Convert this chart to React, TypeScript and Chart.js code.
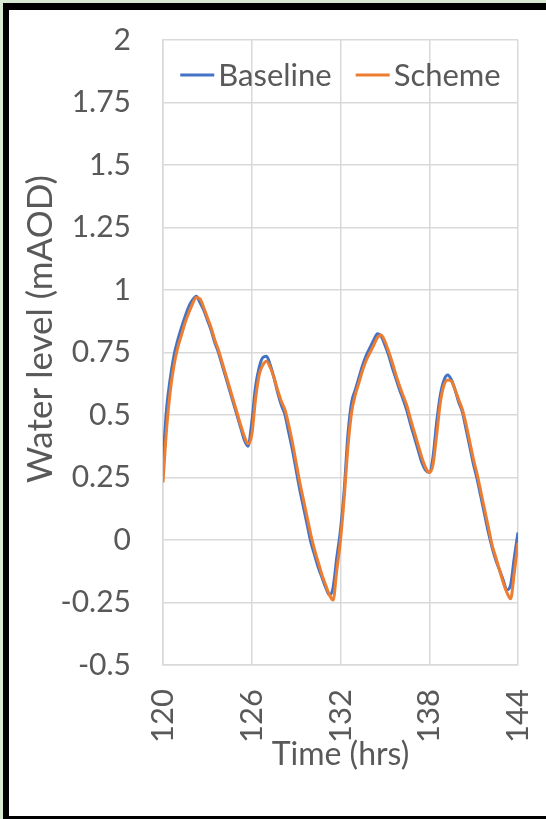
import React, { useEffect, useRef } from "react";
import { Chart, registerables } from "chart.js";

Chart.register(...registerables);

// Time (hrs), sampled every quarter hour
const timeHrs: number[] = [
  120, 120.25, 120.5, 120.75, 121, 121.25, 121.5, 121.75, 122, 122.25, 122.5, 122.75,
  123, 123.25, 123.5, 123.75, 124, 124.25, 124.5, 124.75, 125, 125.25, 125.5, 125.75,
  126, 126.25, 126.5, 126.75, 127, 127.25, 127.5, 127.75, 128, 128.25, 128.5, 128.75,
  129, 129.25, 129.5, 129.75, 130, 130.25, 130.5, 130.75, 131, 131.25, 131.5, 131.75,
  132, 132.25, 132.5, 132.75, 133, 133.25, 133.5, 133.75, 134, 134.25, 134.5, 134.75,
  135, 135.25, 135.5, 135.75, 136, 136.25, 136.5, 136.75, 137, 137.25, 137.5, 137.75,
  138, 138.25, 138.5, 138.75, 139, 139.25, 139.5, 139.75, 140, 140.25, 140.5, 140.75,
  141, 141.25, 141.5, 141.75, 142, 142.25, 142.5, 142.75, 143, 143.25, 143.5, 143.75,
  144,
];

// Water level (mAOD)
const baseline: number[] = [
  0.32, 0.53, 0.65, 0.74, 0.8, 0.85, 0.895, 0.935, 0.96, 0.975, 0.95, 0.92,
  0.88, 0.84, 0.79, 0.75, 0.7, 0.65, 0.6, 0.55, 0.5, 0.45, 0.4, 0.375,
  0.47, 0.61, 0.69, 0.73, 0.735, 0.7, 0.65, 0.59, 0.54, 0.5, 0.43, 0.36,
  0.28, 0.2, 0.13, 0.06, -0.01, -0.06, -0.11, -0.15, -0.19, -0.22, -0.19, -0.07,
  0.04, 0.2, 0.42, 0.55, 0.6, 0.65, 0.7, 0.74, 0.77, 0.8, 0.825, 0.815,
  0.78, 0.74, 0.69, 0.645, 0.6, 0.56, 0.515, 0.46, 0.41, 0.36, 0.31, 0.28,
  0.27, 0.33, 0.47, 0.58, 0.64, 0.66, 0.64, 0.6, 0.55, 0.51, 0.44, 0.37,
  0.3, 0.24, 0.17, 0.1, 0.03, -0.03, -0.08, -0.12, -0.16, -0.2, -0.18, -0.07,
  0.03,
];

const scheme: number[] = [
  0.23, 0.45, 0.6, 0.7, 0.77, 0.82, 0.87, 0.91, 0.945, 0.97, 0.965, 0.93,
  0.89, 0.85, 0.8, 0.76, 0.71, 0.66, 0.61, 0.56, 0.51, 0.46, 0.415, 0.385,
  0.42, 0.56, 0.66, 0.7, 0.715, 0.69, 0.65, 0.6, 0.555, 0.52, 0.46, 0.39,
  0.31, 0.23, 0.16, 0.09, 0.02, -0.04, -0.09, -0.14, -0.18, -0.22, -0.24, -0.12,
  0.0, 0.17, 0.37, 0.51, 0.58, 0.63, 0.68, 0.72, 0.75, 0.78, 0.81, 0.82,
  0.795, 0.755, 0.71, 0.66, 0.615, 0.575, 0.535, 0.48, 0.43, 0.38, 0.33, 0.29,
  0.27, 0.3, 0.42, 0.55, 0.62, 0.64, 0.635, 0.6, 0.56, 0.52, 0.46, 0.39,
  0.32, 0.26, 0.19, 0.12, 0.05, -0.02, -0.07, -0.12, -0.17, -0.21, -0.235, -0.13,
  -0.01,
];

const seriesNames: string[] = ["Baseline", "Scheme"];
const seriesColors: string[] = ["#4472C4", "#ED7D31"];
const xTickValues: number[] = [120, 126, 132, 138, 144];
const yMin = -0.5;
const yMax = 2;
const yStep = 0.25;
const xTitle = "Time (hrs)";
const yTitle = "Water level (mAOD)";

const FONT = "Lato";
const GREY = "#595959";

const yTitlePlugin = {
  id: "yTitlePlugin",
  afterDraw(chart: any) {
    const ctx = chart.ctx;
    ctx.save();
    ctx.translate(41, 329);
    ctx.rotate(-Math.PI / 2);
    ctx.font = `35px ${FONT}`;
    ctx.fillStyle = GREY;
    ctx.textAlign = "center";
    ctx.textBaseline = "middle";
    ctx.fillText(yTitle, 0, 0);
    ctx.restore();
  },
};

// Legend drawn inside the top of the plot area (overlaying the grid)
const legendPlugin = {
  id: "insideLegend",
  afterDatasetsDraw(chart: any) {
    const ctx = chart.ctx;
    const area = chart.chartArea;
    const lineLen = 34;
    const gap = 4;
    const itemGap = 24;
    ctx.save();
    ctx.font = `31px ${FONT}`;
    const items = chart.data.datasets.map((d: any) => ({
      label: d.label as string,
      color: d.borderColor as string,
      w: ctx.measureText(d.label).width,
    }));
    const total =
      items.reduce((s: number, it: any) => s + lineLen + gap + it.w, 0) +
      itemGap * (items.length - 1);
    let x = (area.left + area.right) / 2 - total / 2;
    const y = area.top + 35;
    for (const it of items) {
      ctx.strokeStyle = it.color;
      ctx.lineWidth = 3;
      ctx.beginPath();
      ctx.moveTo(x, y);
      ctx.lineTo(x + lineLen, y);
      ctx.stroke();
      ctx.fillStyle = GREY;
      ctx.textAlign = "left";
      ctx.textBaseline = "middle";
      ctx.fillText(it.label, x + lineLen + gap, y + 1);
      x += lineLen + gap + it.w + itemGap;
    }
    ctx.restore();
  },
};

export default function App() {
  const ref = useRef<HTMLCanvasElement | null>(null);

  useEffect(() => {
    document.body.style.margin = "0";
    const canvas = ref.current;
    if (!canvas) return;
    const toPts = (vals: number[]) => vals.map((v, i) => ({ x: timeHrs[i], y: v }));
    const chart = new Chart(canvas, {
      type: "line",
      data: {
        datasets: [
          {
            label: seriesNames[0],
            data: toPts(baseline),
            borderColor: seriesColors[0],
            backgroundColor: seriesColors[0],
            borderWidth: 3,
            pointRadius: 0,
            cubicInterpolationMode: "monotone",
            order: 1,
          },
          {
            label: seriesNames[1],
            data: toPts(scheme),
            borderColor: seriesColors[1],
            backgroundColor: seriesColors[1],
            borderWidth: 3,
            pointRadius: 0,
            cubicInterpolationMode: "monotone",
            order: 0,
          },
        ],
      },
      options: {
        responsive: false,
        animation: false,
        devicePixelRatio: 1,
        layout: { padding: { top: 40, right: 28, left: 0, bottom: 0 } },
        plugins: {
          tooltip: { enabled: false },
          legend: { display: false },
        },
        scales: {
          x: {
            type: "linear",
            min: 120,
            max: 144,
            afterFit: (s: any) => {
              s.height = 819 - 665;
              s.paddingLeft = 0;
              s.paddingRight = 0;
            },
            afterBuildTicks: (s: any) => {
              s.ticks = xTickValues.map((v) => ({ value: v }));
            },
            grid: { color: "#d9d9d9", lineWidth: 1.5, drawTicks: false },
            border: { color: "#d9d9d9", width: 1.5 },
            ticks: {
              minRotation: 90,
              maxRotation: 90,
              padding: 24,
              color: GREY,
              font: { family: FONT, size: 31 },
              callback: (v: any) => String(v),
            },
            title: {
              display: true,
              text: xTitle,
              color: GREY,
              font: { family: FONT, size: 32 },
              padding: { top: 0, bottom: 45 },
            },
          },
          y: {
            min: yMin,
            max: yMax,
            afterFit: (s: any) => {
              s.width = 163;
              s.paddingTop = 0;
              s.paddingBottom = 0;
            },
            grid: { color: "#d9d9d9", lineWidth: 1.5, drawTicks: false },
            border: { color: "#d9d9d9", width: 1.5 },
            ticks: {
              stepSize: yStep,
              padding: 32,
              color: GREY,
              font: { family: FONT, size: 30 },
              callback: (v: any) => String(v),
            },
          },
        },
      },
      plugins: [yTitlePlugin, legendPlugin],
    } as any);
    return () => chart.destroy();
  }, []);

  return (
    <div
      style={{
        position: "fixed",
        left: 0,
        top: 0,
        width: 546,
        height: 819,
        overflow: "hidden",
        background: "#d9ead3",
      }}
    >
      <div
        style={{
          position: "absolute",
          left: 3,
          top: 3,
          width: 600,
          height: 816,
          boxSizing: "border-box",
          background: "#ffffff",
          borderLeft: "6px solid #000",
          borderTop: "7px solid #000",
          borderBottom: "3px solid #000",
        }}
      />
      <canvas
        ref={ref}
        width={546}
        height={819}
        style={{ position: "absolute", left: 0, top: 0, width: 546, height: 819 }}
      />
    </div>
  );
}
